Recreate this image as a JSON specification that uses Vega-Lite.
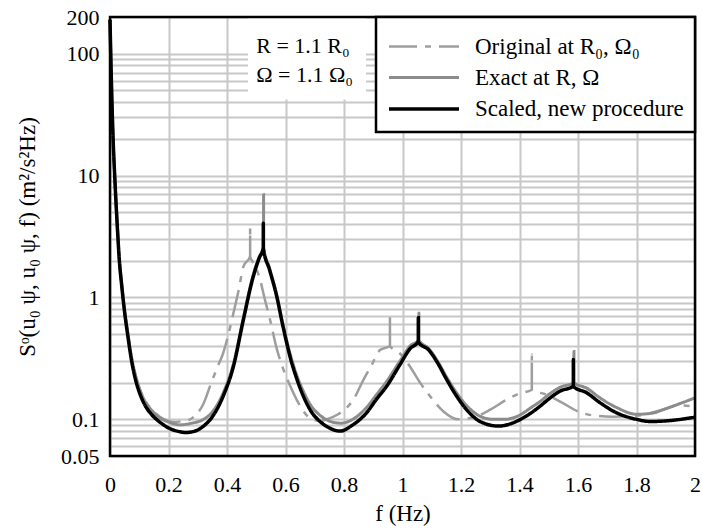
{
  "$schema": "https://vega.github.io/schema/vega-lite/v6.json",
  "width": 585,
  "height": 439,
  "autosize": {"type": "none"},
  "padding": {"left": 110, "top": 17, "right": 7, "bottom": 76},
  "background": "white",
  "data": {"values": [
    {"series":"Original at R₀, Ω₀","f":0,"v":190},{"series":"Original at R₀, Ω₀","f":0.003,"v":90},{"series":"Original at R₀, Ω₀","f":0.006,"v":46},{"series":"Original at R₀, Ω₀","f":0.01,"v":22},{"series":"Original at R₀, Ω₀","f":0.017,"v":9},{"series":"Original at R₀, Ω₀","f":0.025,"v":3.9},{"series":"Original at R₀, Ω₀","f":0.032,"v":2.05},{"series":"Original at R₀, Ω₀","f":0.04,"v":1.3},{"series":"Original at R₀, Ω₀","f":0.051,"v":0.75},{"series":"Original at R₀, Ω₀","f":0.06,"v":0.53},{"series":"Original at R₀, Ω₀","f":0.074,"v":0.32},{"series":"Original at R₀, Ω₀","f":0.09,"v":0.22},{"series":"Original at R₀, Ω₀","f":0.103,"v":0.175},{"series":"Original at R₀, Ω₀","f":0.12,"v":0.143},{"series":"Original at R₀, Ω₀","f":0.143,"v":0.12},{"series":"Original at R₀, Ω₀","f":0.17,"v":0.105},{"series":"Original at R₀, Ω₀","f":0.2,"v":0.097},{"series":"Original at R₀, Ω₀","f":0.22,"v":0.095},{"series":"Original at R₀, Ω₀","f":0.25,"v":0.097},{"series":"Original at R₀, Ω₀","f":0.274,"v":0.1},{"series":"Original at R₀, Ω₀","f":0.296,"v":0.11},{"series":"Original at R₀, Ω₀","f":0.32,"v":0.135},{"series":"Original at R₀, Ω₀","f":0.342,"v":0.187},{"series":"Original at R₀, Ω₀","f":0.365,"v":0.26},{"series":"Original at R₀, Ω₀","f":0.387,"v":0.35},{"series":"Original at R₀, Ω₀","f":0.405,"v":0.5},{"series":"Original at R₀, Ω₀","f":0.422,"v":0.745},{"series":"Original at R₀, Ω₀","f":0.44,"v":1.15},{"series":"Original at R₀, Ω₀","f":0.456,"v":1.79},{"series":"Original at R₀, Ω₀","f":0.479,"v":2.17},{"series":"Original at R₀, Ω₀","f":0.4791,"v":3.7},{"series":"Original at R₀, Ω₀","f":0.4792,"v":2.15},{"series":"Original at R₀, Ω₀","f":0.495,"v":1.85},{"series":"Original at R₀, Ω₀","f":0.513,"v":1.4},{"series":"Original at R₀, Ω₀","f":0.53,"v":0.95},{"series":"Original at R₀, Ω₀","f":0.547,"v":0.66},{"series":"Original at R₀, Ω₀","f":0.57,"v":0.38},{"series":"Original at R₀, Ω₀","f":0.593,"v":0.256},{"series":"Original at R₀, Ω₀","f":0.615,"v":0.19},{"series":"Original at R₀, Ω₀","f":0.638,"v":0.145},{"series":"Original at R₀, Ω₀","f":0.66,"v":0.118},{"series":"Original at R₀, Ω₀","f":0.684,"v":0.102},{"series":"Original at R₀, Ω₀","f":0.72,"v":0.097},{"series":"Original at R₀, Ω₀","f":0.741,"v":0.1},{"series":"Original at R₀, Ω₀","f":0.78,"v":0.11},{"series":"Original at R₀, Ω₀","f":0.81,"v":0.125},{"series":"Original at R₀, Ω₀","f":0.832,"v":0.145},{"series":"Original at R₀, Ω₀","f":0.866,"v":0.21},{"series":"Original at R₀, Ω₀","f":0.895,"v":0.28},{"series":"Original at R₀, Ω₀","f":0.923,"v":0.37},{"series":"Original at R₀, Ω₀","f":0.957,"v":0.4},{"series":"Original at R₀, Ω₀","f":0.9571,"v":0.71},{"series":"Original at R₀, Ω₀","f":0.9572,"v":0.4},{"series":"Original at R₀, Ω₀","f":0.99,"v":0.35},{"series":"Original at R₀, Ω₀","f":1.026,"v":0.27},{"series":"Original at R₀, Ω₀","f":1.06,"v":0.2},{"series":"Original at R₀, Ω₀","f":1.094,"v":0.155},{"series":"Original at R₀, Ω₀","f":1.14,"v":0.116},{"series":"Original at R₀, Ω₀","f":1.19,"v":0.1},{"series":"Original at R₀, Ω₀","f":1.25,"v":0.105},{"series":"Original at R₀, Ω₀","f":1.3,"v":0.12},{"series":"Original at R₀, Ω₀","f":1.356,"v":0.145},{"series":"Original at R₀, Ω₀","f":1.4,"v":0.163},{"series":"Original at R₀, Ω₀","f":1.442,"v":0.175},{"series":"Original at R₀, Ω₀","f":1.4421,"v":0.34},{"series":"Original at R₀, Ω₀","f":1.4422,"v":0.175},{"series":"Original at R₀, Ω₀","f":1.49,"v":0.16},{"series":"Original at R₀, Ω₀","f":1.55,"v":0.135},{"series":"Original at R₀, Ω₀","f":1.6,"v":0.116},{"series":"Original at R₀, Ω₀","f":1.66,"v":0.107},{"series":"Original at R₀, Ω₀","f":1.72,"v":0.105},{"series":"Original at R₀, Ω₀","f":1.8,"v":0.107},{"series":"Original at R₀, Ω₀","f":1.88,"v":0.118},{"series":"Original at R₀, Ω₀","f":1.94,"v":0.13},{"series":"Original at R₀, Ω₀","f":2,"v":0.128},

    {"series":"Exact at R, Ω","f":0,"v":190},{"series":"Exact at R, Ω","f":0.003,"v":90},{"series":"Exact at R, Ω","f":0.006,"v":46},{"series":"Exact at R, Ω","f":0.01,"v":22},{"series":"Exact at R, Ω","f":0.017,"v":9},{"series":"Exact at R, Ω","f":0.025,"v":3.9},{"series":"Exact at R, Ω","f":0.032,"v":2.05},{"series":"Exact at R, Ω","f":0.04,"v":1.3},{"series":"Exact at R, Ω","f":0.051,"v":0.75},{"series":"Exact at R, Ω","f":0.06,"v":0.53},{"series":"Exact at R, Ω","f":0.074,"v":0.32},{"series":"Exact at R, Ω","f":0.09,"v":0.215},{"series":"Exact at R, Ω","f":0.103,"v":0.172},{"series":"Exact at R, Ω","f":0.12,"v":0.14},{"series":"Exact at R, Ω","f":0.143,"v":0.118},{"series":"Exact at R, Ω","f":0.17,"v":0.103},{"series":"Exact at R, Ω","f":0.2,"v":0.095},{"series":"Exact at R, Ω","f":0.24,"v":0.09},{"series":"Exact at R, Ω","f":0.28,"v":0.093},{"series":"Exact at R, Ω","f":0.32,"v":0.1},{"series":"Exact at R, Ω","f":0.35,"v":0.115},{"series":"Exact at R, Ω","f":0.387,"v":0.165},{"series":"Exact at R, Ω","f":0.422,"v":0.285},{"series":"Exact at R, Ω","f":0.456,"v":0.68},{"series":"Exact at R, Ω","f":0.49,"v":1.55},{"series":"Exact at R, Ω","f":0.51,"v":2.15},{"series":"Exact at R, Ω","f":0.525,"v":2.6},{"series":"Exact at R, Ω","f":0.5251,"v":6.95},{"series":"Exact at R, Ω","f":0.5252,"v":2.58},{"series":"Exact at R, Ω","f":0.545,"v":1.75},{"series":"Exact at R, Ω","f":0.57,"v":1.05},{"series":"Exact at R, Ω","f":0.59,"v":0.62},{"series":"Exact at R, Ω","f":0.615,"v":0.35},{"series":"Exact at R, Ω","f":0.64,"v":0.225},{"series":"Exact at R, Ω","f":0.661,"v":0.17},{"series":"Exact at R, Ω","f":0.684,"v":0.133},{"series":"Exact at R, Ω","f":0.72,"v":0.107},{"series":"Exact at R, Ω","f":0.76,"v":0.095},{"series":"Exact at R, Ω","f":0.79,"v":0.093},{"series":"Exact at R, Ω","f":0.83,"v":0.1},{"series":"Exact at R, Ω","f":0.877,"v":0.125},{"series":"Exact at R, Ω","f":0.91,"v":0.158},{"series":"Exact at R, Ω","f":0.946,"v":0.205},{"series":"Exact at R, Ω","f":0.991,"v":0.3},{"series":"Exact at R, Ω","f":1.026,"v":0.4},{"series":"Exact at R, Ω","f":1.056,"v":0.45},{"series":"Exact at R, Ω","f":1.0561,"v":0.745},{"series":"Exact at R, Ω","f":1.0562,"v":0.445},{"series":"Exact at R, Ω","f":1.09,"v":0.38},{"series":"Exact at R, Ω","f":1.12,"v":0.3},{"series":"Exact at R, Ω","f":1.151,"v":0.222},{"series":"Exact at R, Ω","f":1.185,"v":0.165},{"series":"Exact at R, Ω","f":1.219,"v":0.13},{"series":"Exact at R, Ω","f":1.265,"v":0.106},{"series":"Exact at R, Ω","f":1.31,"v":0.1},{"series":"Exact at R, Ω","f":1.35,"v":0.1},{"series":"Exact at R, Ω","f":1.4,"v":0.108},{"series":"Exact at R, Ω","f":1.44,"v":0.125},{"series":"Exact at R, Ω","f":1.47,"v":0.14},{"series":"Exact at R, Ω","f":1.505,"v":0.163},{"series":"Exact at R, Ω","f":1.538,"v":0.183},{"series":"Exact at R, Ω","f":1.586,"v":0.2},{"series":"Exact at R, Ω","f":1.5861,"v":0.36},{"series":"Exact at R, Ω","f":1.5862,"v":0.2},{"series":"Exact at R, Ω","f":1.63,"v":0.18},{"series":"Exact at R, Ω","f":1.675,"v":0.15},{"series":"Exact at R, Ω","f":1.732,"v":0.125},{"series":"Exact at R, Ω","f":1.8,"v":0.11},{"series":"Exact at R, Ω","f":1.85,"v":0.112},{"series":"Exact at R, Ω","f":1.9,"v":0.122},{"series":"Exact at R, Ω","f":1.95,"v":0.135},{"series":"Exact at R, Ω","f":2,"v":0.15},

    {"series":"Scaled, new procedure","f":0,"v":190},{"series":"Scaled, new procedure","f":0.003,"v":90},{"series":"Scaled, new procedure","f":0.006,"v":46},{"series":"Scaled, new procedure","f":0.01,"v":22},{"series":"Scaled, new procedure","f":0.017,"v":8.9},{"series":"Scaled, new procedure","f":0.025,"v":3.8},{"series":"Scaled, new procedure","f":0.032,"v":2.0},{"series":"Scaled, new procedure","f":0.04,"v":1.25},{"series":"Scaled, new procedure","f":0.051,"v":0.72},{"series":"Scaled, new procedure","f":0.06,"v":0.5},{"series":"Scaled, new procedure","f":0.074,"v":0.3},{"series":"Scaled, new procedure","f":0.09,"v":0.2},{"series":"Scaled, new procedure","f":0.103,"v":0.16},{"series":"Scaled, new procedure","f":0.12,"v":0.13},{"series":"Scaled, new procedure","f":0.143,"v":0.109},{"series":"Scaled, new procedure","f":0.17,"v":0.095},{"series":"Scaled, new procedure","f":0.2,"v":0.085},{"series":"Scaled, new procedure","f":0.23,"v":0.08},{"series":"Scaled, new procedure","f":0.26,"v":0.078},{"series":"Scaled, new procedure","f":0.29,"v":0.08},{"series":"Scaled, new procedure","f":0.32,"v":0.088},{"series":"Scaled, new procedure","f":0.35,"v":0.105},{"series":"Scaled, new procedure","f":0.387,"v":0.155},{"series":"Scaled, new procedure","f":0.422,"v":0.272},{"series":"Scaled, new procedure","f":0.456,"v":0.656},{"series":"Scaled, new procedure","f":0.49,"v":1.49},{"series":"Scaled, new procedure","f":0.51,"v":2.1},{"series":"Scaled, new procedure","f":0.524,"v":2.54},{"series":"Scaled, new procedure","f":0.5241,"v":4.07},{"series":"Scaled, new procedure","f":0.5242,"v":2.52},{"series":"Scaled, new procedure","f":0.545,"v":1.7},{"series":"Scaled, new procedure","f":0.57,"v":1.02},{"series":"Scaled, new procedure","f":0.59,"v":0.6},{"series":"Scaled, new procedure","f":0.615,"v":0.33},{"series":"Scaled, new procedure","f":0.64,"v":0.21},{"series":"Scaled, new procedure","f":0.661,"v":0.155},{"series":"Scaled, new procedure","f":0.684,"v":0.12},{"series":"Scaled, new procedure","f":0.72,"v":0.095},{"series":"Scaled, new procedure","f":0.75,"v":0.085},{"series":"Scaled, new procedure","f":0.786,"v":0.08},{"series":"Scaled, new procedure","f":0.83,"v":0.09},{"series":"Scaled, new procedure","f":0.877,"v":0.113},{"series":"Scaled, new procedure","f":0.91,"v":0.145},{"series":"Scaled, new procedure","f":0.946,"v":0.187},{"series":"Scaled, new procedure","f":0.991,"v":0.28},{"series":"Scaled, new procedure","f":1.026,"v":0.38},{"series":"Scaled, new procedure","f":1.054,"v":0.436},{"series":"Scaled, new procedure","f":1.0541,"v":0.68},{"series":"Scaled, new procedure","f":1.0542,"v":0.43},{"series":"Scaled, new procedure","f":1.09,"v":0.37},{"series":"Scaled, new procedure","f":1.12,"v":0.29},{"series":"Scaled, new procedure","f":1.151,"v":0.212},{"series":"Scaled, new procedure","f":1.185,"v":0.155},{"series":"Scaled, new procedure","f":1.219,"v":0.12},{"series":"Scaled, new procedure","f":1.265,"v":0.096},{"series":"Scaled, new procedure","f":1.328,"v":0.088},{"series":"Scaled, new procedure","f":1.37,"v":0.092},{"series":"Scaled, new procedure","f":1.402,"v":0.0995},{"series":"Scaled, new procedure","f":1.44,"v":0.113},{"series":"Scaled, new procedure","f":1.47,"v":0.128},{"series":"Scaled, new procedure","f":1.505,"v":0.15},{"series":"Scaled, new procedure","f":1.538,"v":0.17},{"series":"Scaled, new procedure","f":1.584,"v":0.187},{"series":"Scaled, new procedure","f":1.5841,"v":0.31},{"series":"Scaled, new procedure","f":1.5842,"v":0.186},{"series":"Scaled, new procedure","f":1.63,"v":0.165},{"series":"Scaled, new procedure","f":1.675,"v":0.137},{"series":"Scaled, new procedure","f":1.732,"v":0.113},{"series":"Scaled, new procedure","f":1.8,"v":0.1},{"series":"Scaled, new procedure","f":1.846,"v":0.096},{"series":"Scaled, new procedure","f":1.9,"v":0.097},{"series":"Scaled, new procedure","f":1.937,"v":0.099},{"series":"Scaled, new procedure","f":2,"v":0.104}
  ]},
  "layer": [
    {"data": {"values": [{"label": "box"}]},
     "mark": {"type": "rect", "fill": "white", "stroke": null},
     "encoding": {
       "x": {"datum": 0.472, "type": "quantitative", "scale": {"domain": [0, 2], "nice": false, "zero": false},
         "axis": {"values": [0,0.2,0.4,0.6,0.8,1,1.2,1.4,1.6,1.8,2], "grid": true, "format": "~g", "title": "f (Hz)", "labelPadding": 18, "titlePadding": 7, "labelFlush": false, "labelOverlap": false}},
       "x2": {"datum": 0.875},
       "y": {"datum": 42, "type": "quantitative", "scale": {"type": "log", "domain": [0.05, 200], "nice": false},
         "axis": {"values": [0.05,0.06,0.07,0.08,0.09,0.1,0.2,0.3,0.4,0.5,0.6,0.7,0.8,0.9,1,2,3,4,5,6,7,8,9,10,20,30,40,50,60,70,80,90,100,200], "grid": true,
           "format": "~g", "labelExpr": "indexof([0.05,0.1,1,10,100,200], datum.value) >= 0 ? datum.label : ''",
           "title": "Sᵒ(u₀ ψ, u₀ ψ, f)   (m²/s²Hz)", "labelPadding": 11, "titlePadding": 21, "labelFlush": false, "labelOverlap": false}},
       "y2": {"datum": 200}}},
    {"transform": [{"filter": "datum.series === 'Original at R₀, Ω₀'"}],
     "mark": {"type": "line", "interpolate": "monotone"},
     "encoding": {
       "x": {"field": "f", "type": "quantitative"},
       "y": {"field": "v", "type": "quantitative"},
       "color": {"field": "series", "type": "nominal", "scale": {"domain": ["Original at R₀, Ω₀","Exact at R, Ω","Scaled, new procedure"], "range": ["#9e9e9e","#8c8c8c","#000000"]}, "legend": {"title": null}},
       "strokeDash": {"field": "series", "type": "nominal", "scale": {"domain": ["Original at R₀, Ω₀","Exact at R, Ω","Scaled, new procedure"], "range": [[28,8,6,8],[1,0],[1,0]]}, "legend": {"title": null}},
       "strokeWidth": {"field": "series", "type": "nominal", "scale": {"domain": ["Original at R₀, Ω₀","Exact at R, Ω","Scaled, new procedure"], "range": [2.5,3.5,3.5]}, "legend": {"title": null}}
     }},
    {"transform": [{"filter": "datum.series === 'Exact at R, Ω'"}],
     "mark": {"type": "line", "interpolate": "monotone"},
     "encoding": {
       "x": {"field": "f", "type": "quantitative"},
       "y": {"field": "v", "type": "quantitative"},
       "color": {"field": "series", "type": "nominal"},
       "strokeDash": {"field": "series", "type": "nominal"},
       "strokeWidth": {"field": "series", "type": "nominal"}
     }},
    {"transform": [{"filter": "datum.series === 'Scaled, new procedure'"}],
     "mark": {"type": "line", "interpolate": "monotone"},
     "encoding": {
       "x": {"field": "f", "type": "quantitative"},
       "y": {"field": "v", "type": "quantitative"},
       "color": {"field": "series", "type": "nominal"},
       "strokeDash": {"field": "series", "type": "nominal"},
       "strokeWidth": {"field": "series", "type": "nominal"}
     }},
    {"data": {"values": [{"label": "R  = 1.1 R₀"}]},
     "mark": {"type": "text", "align": "left", "baseline": "middle", "fontSize": 22, "font": "Liberation Serif", "fill": "black"},
     "encoding": {"text": {"field": "label"}, "x": {"datum": 0.5, "type": "quantitative"}, "y": {"datum": 115, "type": "quantitative"}}},
    {"data": {"values": [{"label": "Ω = 1.1 Ω₀"}]},
     "mark": {"type": "text", "align": "left", "baseline": "middle", "fontSize": 22, "font": "Liberation Serif", "fill": "black"},
     "encoding": {"text": {"field": "label"}, "x": {"datum": 0.5, "type": "quantitative"}, "y": {"datum": 67, "type": "quantitative"}}},
    {"data": {"values": [{"label": "frame"}]},
     "mark": {"type": "rect", "filled": false, "stroke": "black", "strokeWidth": 2.5},
     "encoding": {"x": {"datum": 0, "type": "quantitative"}, "x2": {"datum": 2}, "y": {"datum": 0.05, "type": "quantitative"}, "y2": {"datum": 200}}}
  ],
  "config": {
    "font": "Liberation Serif",
    "view": {"stroke": null},
    "axis": {"grid": true, "labelFont": "Liberation Serif", "labelFontSize": 22, "labelColor": "black", "titleFont": "Liberation Serif", "titleFontSize": 23, "titleFontWeight": "normal", "titleColor": "black", "gridColor": "#c8c8c8", "gridWidth": 2, "domain": false, "ticks": false, "tickSize": 0},
    "legend": {"orient": "top-right", "offset": 0, "strokeColor": "black", "strokeWidth": 2.5, "fillColor": "white", "padding": 11, "symbolType": "M-1,0H3.1176", "symbolSize": 1156, "labelFont": "Liberation Serif", "labelFontSize": 23, "labelColor": "black", "labelOffset": 50, "rowPadding": -5, "labelLimit": 400}
  }
}
